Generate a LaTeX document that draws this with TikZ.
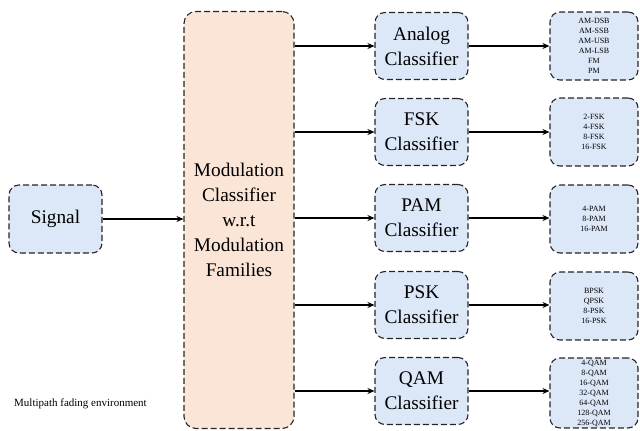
\documentclass[tikz,border=0pt]{standalone}
\usepackage{fontspec}
\setmainfont{Liberation Serif}
\usetikzlibrary{arrows.meta}
\definecolor{boxblue}{HTML}{DCE8F8}
\definecolor{boxorange}{HTML}{FBE5D6}
\begin{document}
\begin{tikzpicture}[x=1pt,y=-1pt,
  base/.style={draw=black!85, line width=1.1pt, dash pattern=on 6pt off 3pt, rounded corners=10pt, align=center, inner sep=0pt},
  bluebox/.style={base, fill=boxblue},
  bigtext/.style={font=\fontsize{19.3}{25}\selectfont},
  clsbox/.style={bluebox, bigtext, minimum width=93pt, minimum height=67pt},
  listbox/.style={bluebox, font=\fontsize{8}{10}\selectfont, minimum width=88pt, minimum height=68pt},
  arr/.style={-{Stealth[length=7pt,width=6pt]}, line width=1.1pt}]
\useasboundingbox (0,0) rectangle (640,431);

\node[bluebox, bigtext, minimum width=93pt, minimum height=68pt] (sig) at (55.5,219) {Signal};
\node[base, fill=boxorange, bigtext, minimum width=110pt, minimum height=417pt, rounded corners=12pt] (mod) at (239,220)
  {Modulation\\Classifier\\w.r.t\\Modulation\\Families};

\node[clsbox] (c1) at (421.5,46) {Analog\\Classifier};
\node[clsbox] (c2) at (421.5,132) {FSK\\Classifier};
\node[clsbox] (c3) at (421.5,218) {PAM\\Classifier};
\node[clsbox] (c4) at (421.5,305) {PSK\\Classifier};
\node[clsbox] (c5) at (421.5,391) {QAM\\Classifier};

\node[listbox] (l1) at (594,46) {AM-DSB\\AM-SSB\\AM-USB\\AM-LSB\\FM\\PM};
\node[listbox] (l2) at (594,132) {2-FSK\\4-FSK\\8-FSK\\16-FSK};
\node[listbox] (l3) at (594,219) {4-PAM\\8-PAM\\16-PAM};
\node[listbox] (l4) at (594,306) {BPSK\\QPSK\\8-PSK\\16-PSK};
\node[listbox, minimum height=70pt] (l5) at (594,393) {4-QAM\\8-QAM\\16-QAM\\32-QAM\\64-QAM\\128-QAM\\256-QAM};

\draw[arr] (sig.east) -- (sig.east -| mod.west);
\foreach \i in {1,...,5}{
  \draw[arr] (mod.east |- c\i) -- (c\i.west);
  \draw[arr] (c\i.east) -- (l\i.west |- c\i);
}

\node[anchor=west, font=\fontsize{11}{13}\selectfont, inner sep=0pt] (env) at (14,404) {Multipath fading environment};
\end{tikzpicture}
\end{document}
